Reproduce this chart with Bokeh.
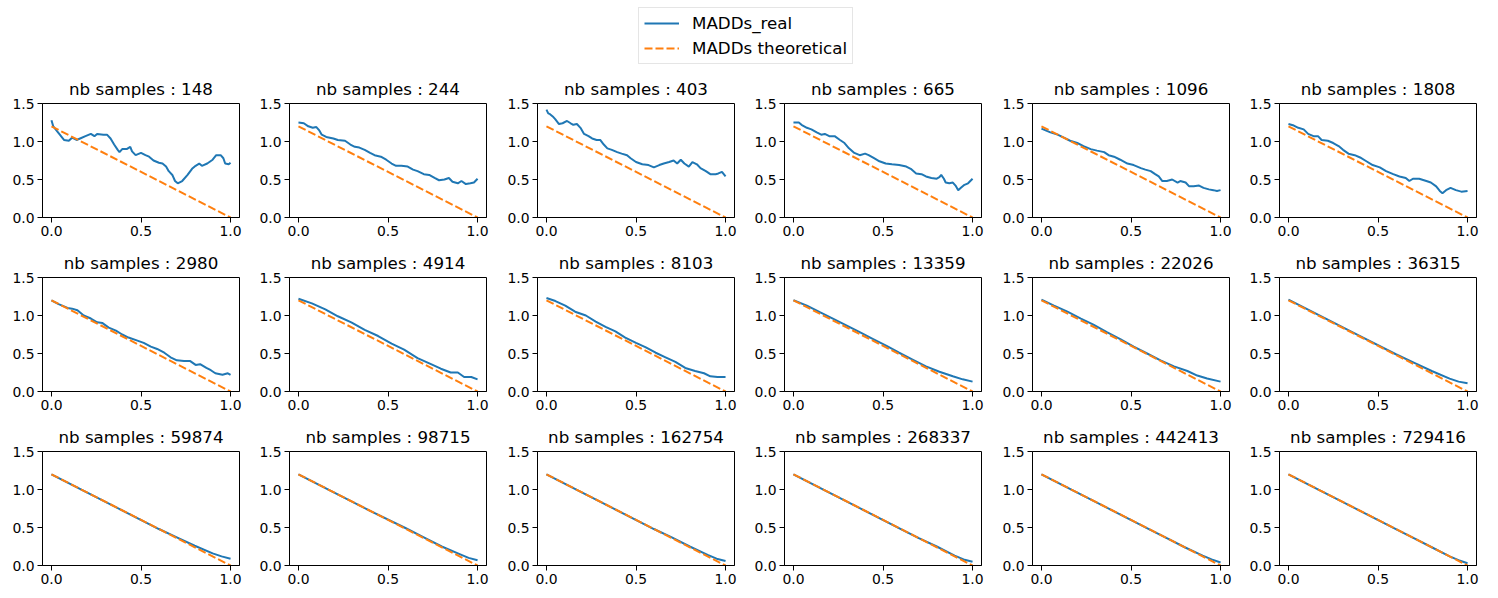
from bokeh.plotting import figure
from bokeh.layouts import column, row
from bokeh.models import Legend, LegendItem, FixedTicker, NumeralTickFormatter
from bokeh.embed import file_html
from bokeh.resources import INLINE

# ---------------- data ----------------
nb_samples = [148, 244, 403, 665, 1096, 1808,
              2980, 4914, 8103, 13359, 22026, 36315,
              59874, 98715, 162754, 268337, 442413, 729416]

theo_x = [0.0, 1.0]
theo_y = [1.2, 0.0]

x_148 = [0.0, 0.01, 0.04, 0.07, 0.097, 0.115, 0.14, 0.16, 0.19, 0.22, 0.24, 0.255, 0.29, 0.31, 0.33, 0.35,
         0.37, 0.38, 0.395, 0.42, 0.44, 0.45, 0.47, 0.50, 0.525, 0.545, 0.57, 0.60, 0.62, 0.64, 0.655, 0.675,
         0.69, 0.705, 0.73, 0.76, 0.785, 0.805, 0.825, 0.84, 0.87, 0.90, 0.92, 0.945, 0.96, 0.97, 0.99, 1.0]
y_148 = [1.28, 1.20, 1.11, 1.02, 1.01, 1.05, 1.02, 1.04, 1.07, 1.10, 1.07, 1.10, 1.09, 1.09, 1.04, 0.96,
         0.89, 0.86, 0.90, 0.90, 0.93, 0.87, 0.82, 0.85, 0.82, 0.80, 0.75, 0.72, 0.71, 0.67, 0.61, 0.56,
         0.48, 0.45, 0.48, 0.56, 0.64, 0.68, 0.71, 0.68, 0.71, 0.76, 0.82, 0.82, 0.78, 0.71, 0.70, 0.72]

x_244 = [0.0, 0.03, 0.055, 0.08, 0.10, 0.115, 0.13, 0.155, 0.195, 0.22, 0.26, 0.29, 0.315, 0.34, 0.37,
         0.40, 0.425, 0.46, 0.49, 0.52, 0.545, 0.575, 0.61, 0.64, 0.665, 0.70, 0.73, 0.76, 0.785, 0.815,
         0.84, 0.86, 0.89, 0.91, 0.935, 0.96, 0.98, 1.0]
y_244 = [1.25, 1.24, 1.20, 1.18, 1.19, 1.15, 1.09, 1.06, 1.04, 1.02, 1.01, 0.96, 0.93, 0.92, 0.89,
         0.85, 0.82, 0.80, 0.76, 0.71, 0.68, 0.68, 0.67, 0.63, 0.61, 0.57, 0.56, 0.52, 0.49, 0.50,
         0.52, 0.47, 0.45, 0.48, 0.44, 0.45, 0.46, 0.51]

x_403 = [0.0, 0.01, 0.02, 0.035, 0.05, 0.07, 0.09, 0.115, 0.135, 0.15, 0.17, 0.19, 0.21, 0.235, 0.255,
         0.28, 0.30, 0.32, 0.34, 0.365, 0.395, 0.42, 0.45, 0.47, 0.50, 0.535, 0.57, 0.60, 0.63, 0.655,
         0.685, 0.71, 0.73, 0.75, 0.77, 0.795, 0.815, 0.84, 0.86, 0.89, 0.915, 0.945, 0.96, 0.98, 1.0]
y_403 = [1.42, 1.37, 1.36, 1.33, 1.29, 1.23, 1.24, 1.27, 1.24, 1.22, 1.23, 1.18, 1.10, 1.07, 1.04,
         1.02, 1.02, 0.96, 0.91, 0.89, 0.86, 0.84, 0.82, 0.78, 0.73, 0.70, 0.69, 0.66, 0.69, 0.71,
         0.73, 0.75, 0.71, 0.76, 0.71, 0.67, 0.73, 0.70, 0.65, 0.61, 0.57, 0.57, 0.58, 0.60, 0.54]

x_665 = [0.0, 0.03, 0.045, 0.075, 0.10, 0.13, 0.155, 0.175, 0.20, 0.23, 0.26, 0.285, 0.31, 0.34, 0.37,
         0.40, 0.42, 0.45, 0.48, 0.515, 0.55, 0.59, 0.63, 0.655, 0.685, 0.715, 0.74, 0.77, 0.80, 0.815,
         0.825, 0.84, 0.85, 0.87, 0.89, 0.905, 0.92, 0.935, 0.955, 0.975, 1.0]
y_665 = [1.25, 1.25, 1.22, 1.18, 1.16, 1.12, 1.09, 1.10, 1.07, 1.07, 1.02, 0.98, 0.91, 0.85, 0.82,
         0.84, 0.82, 0.78, 0.74, 0.71, 0.70, 0.69, 0.67, 0.64, 0.58, 0.57, 0.54, 0.52, 0.51, 0.53,
         0.56, 0.51, 0.46, 0.45, 0.46, 0.42, 0.36, 0.39, 0.43, 0.45, 0.51]

x_1096 = [0.0, 0.02, 0.05, 0.09, 0.125, 0.16, 0.20, 0.235, 0.275, 0.31, 0.35, 0.375, 0.405, 0.44, 0.48,
          0.515, 0.555, 0.58, 0.61, 0.635, 0.655, 0.675, 0.70, 0.73, 0.76, 0.775, 0.805, 0.825, 0.85,
          0.88, 0.905, 0.935, 0.96, 0.98, 1.0]
y_1096 = [1.17, 1.15, 1.12, 1.09, 1.05, 1.01, 0.98, 0.94, 0.90, 0.88, 0.86, 0.82, 0.80, 0.76, 0.71,
          0.69, 0.65, 0.63, 0.61, 0.57, 0.54, 0.48, 0.48, 0.50, 0.46, 0.48, 0.46, 0.41, 0.41,
          0.42, 0.39, 0.37, 0.36, 0.35, 0.36]

x_1808 = [0.0, 0.03, 0.055, 0.085, 0.11, 0.14, 0.165, 0.185, 0.22, 0.25, 0.28, 0.305, 0.335, 0.37, 0.40,
          0.435, 0.47, 0.51, 0.545, 0.585, 0.62, 0.655, 0.675, 0.695, 0.73, 0.77, 0.795, 0.825, 0.845,
          0.86, 0.88, 0.905, 0.935, 0.965, 1.0]
y_1808 = [1.23, 1.21, 1.18, 1.16, 1.10, 1.07, 1.07, 1.02, 1.01, 0.98, 0.94, 0.89, 0.84, 0.82, 0.79,
          0.74, 0.69, 0.66, 0.61, 0.57, 0.54, 0.52, 0.48, 0.51, 0.51, 0.48, 0.46, 0.41, 0.35,
          0.32, 0.36, 0.39, 0.36, 0.34, 0.35]

x_2980 = [0.0, 0.04, 0.09, 0.115, 0.145, 0.18, 0.22, 0.255, 0.285, 0.32, 0.36, 0.395, 0.43, 0.48, 0.515,
          0.555, 0.59, 0.63, 0.665, 0.70, 0.74, 0.775, 0.805, 0.83, 0.865, 0.89, 0.915, 0.955, 0.985, 1.0]
y_2980 = [1.20, 1.15, 1.10, 1.09, 1.07, 1.00, 0.96, 0.91, 0.90, 0.84, 0.80, 0.75, 0.71, 0.67, 0.64,
          0.59, 0.56, 0.51, 0.45, 0.41, 0.40, 0.40, 0.35, 0.36, 0.31, 0.28, 0.24, 0.22, 0.24, 0.22]

x_4914 = [0.0, 0.075, 0.15, 0.22, 0.295, 0.37, 0.445, 0.52, 0.59, 0.665, 0.74, 0.795, 0.85, 0.89, 0.925,
          0.965, 1.0]
y_4914 = [1.22, 1.16, 1.08, 0.99, 0.91, 0.81, 0.73, 0.63, 0.55, 0.44, 0.36, 0.30, 0.25, 0.25, 0.19,
          0.19, 0.16]

x_8103 = [0.0, 0.05, 0.105, 0.16, 0.22, 0.275, 0.33, 0.385, 0.44, 0.50, 0.555, 0.61, 0.665, 0.72, 0.775,
          0.83, 0.88, 0.915, 0.955, 1.0]
y_8103 = [1.23, 1.19, 1.13, 1.05, 1.00, 0.92, 0.85, 0.79, 0.71, 0.64, 0.58, 0.51, 0.45, 0.39, 0.31,
          0.27, 0.24, 0.20, 0.19, 0.19]

x_13359 = [0.0, 0.075, 0.15, 0.22, 0.295, 0.37, 0.445, 0.52, 0.59, 0.665, 0.74, 0.815, 0.89, 0.945, 1.0]
y_13359 = [1.20, 1.13, 1.04, 0.96, 0.87, 0.78, 0.69, 0.60, 0.51, 0.42, 0.33, 0.26, 0.20, 0.16, 0.13]

x_22026 = [0.0, 0.07, 0.145, 0.22, 0.29, 0.365, 0.44, 0.515, 0.59, 0.665, 0.74, 0.815, 0.87, 0.925, 1.0]
y_22026 = [1.21, 1.13, 1.05, 0.96, 0.88, 0.78, 0.69, 0.59, 0.50, 0.41, 0.33, 0.27, 0.21, 0.17, 0.13]

x_smooth = [0.0, 0.2, 0.4, 0.6, 0.7, 0.8, 0.9, 0.95, 1.0]
y_36315 = [1.21, 0.97, 0.73, 0.49, 0.38, 0.27, 0.17, 0.13, 0.11]
y_59874 = [1.20, 0.96, 0.72, 0.48, 0.37, 0.26, 0.16, 0.12, 0.09]
y_98715 = [1.20, 0.96, 0.72, 0.49, 0.37, 0.25, 0.15, 0.10, 0.07]
y_162754 = [1.20, 0.96, 0.72, 0.48, 0.37, 0.25, 0.14, 0.09, 0.06]
y_268337 = [1.20, 0.96, 0.72, 0.48, 0.36, 0.25, 0.13, 0.08, 0.05]
y_442413 = [1.20, 0.96, 0.72, 0.48, 0.36, 0.24, 0.13, 0.08, 0.04]
y_729416 = [1.20, 0.96, 0.72, 0.48, 0.36, 0.24, 0.12, 0.07, 0.03]

x_ticks = [0.0, 0.5, 1.0]
y_ticks = [0.0, 0.5, 1.0, 1.5]

real_series = [
    (x_148, y_148), (x_244, y_244), (x_403, y_403), (x_665, y_665), (x_1096, y_1096), (x_1808, y_1808),
    (x_2980, y_2980), (x_4914, y_4914), (x_8103, y_8103), (x_13359, y_13359), (x_22026, y_22026),
    (x_smooth, y_36315),
    (x_smooth, y_59874), (x_smooth, y_98715), (x_smooth, y_162754), (x_smooth, y_268337),
    (x_smooth, y_442413), (x_smooth, y_729416),
]

BLUE = "#1f77b4"
ORANGE = "#ff7f0e"
FONT = "DejaVu Sans"

# ---------------- legend strip ----------------
# the strip's ranges are set away from the data so that only the legend shows
leg_fig = figure(width=1498, height=69, output_backend="svg", toolbar_location=None,
                 x_axis_location=None, y_axis_location=None, min_border=0,
                 x_range=(10, 11), y_range=(10, 11))
leg_fig.grid.visible = False
leg_fig.outline_line_color = None
r_real = leg_fig.line(x=x_148, y=y_148, line_color=BLUE, line_width=2)
r_theo = leg_fig.line(x=theo_x, y=theo_y, line_color=ORANGE, line_width=2, line_dash="8 3")
legend = Legend(items=[LegendItem(label="MADDs_real", renderers=[r_real]),
                       LegendItem(label="MADDs theoretical", renderers=[r_theo])],
                location=(638, 5), orientation="vertical",
                label_text_font=FONT, label_text_font_size="16.7px", label_text_color="black",
                glyph_width=35, glyph_height=20, label_height=20, label_standoff=13,
                spacing=5, padding=5, margin=0,
                border_line_color="#cccccc", border_line_width=1,
                background_fill_color="white", background_fill_alpha=0.8)
leg_fig.add_layout(legend, "center")

# ---------------- subplot grid ----------------
widths = [247, 248, 247, 248, 247, 248]
rows = []
for r in range(3):
    figs = []
    for c in range(6):
        i = r * 6 + c
        w = widths[c]
        p = figure(width=w, height=174, output_backend="svg", toolbar_location=None,
                   x_range=(-0.05, 1.05), y_range=(0, 1.5),
                   min_border_left=42, min_border_right=w - 42 - 197,
                   min_border_top=34, min_border_bottom=26,
                   title=f"nb samples : {nb_samples[i]}")
        p.title.align = "center"
        p.title.text_font = FONT
        p.title.text_font_size = "16.7px"
        p.title.text_font_style = "normal"
        p.title.text_color = "black"
        p.title.standoff = 10
        p.grid.visible = False
        p.outline_line_color = "black"
        p.outline_line_width = 1
        p.outline_line_alpha = 1
        for ax in (p.xaxis[0], p.yaxis[0]):
            ax.major_label_text_font = FONT
            ax.major_label_text_font_size = "13.9px"
            ax.major_label_text_color = "black"
            ax.major_tick_out = 5
            ax.major_tick_in = 0
            ax.minor_tick_out = 0
            ax.minor_tick_in = 0
            ax.major_label_standoff = 3
            ax.axis_line_color = "black"
            ax.major_tick_line_color = "black"
            ax.formatter = NumeralTickFormatter(format="0.0")
        p.xaxis[0].ticker = FixedTicker(ticks=x_ticks)
        p.yaxis[0].ticker = FixedTicker(ticks=y_ticks)
        xs, ys = real_series[i]
        p.line(x=xs, y=ys, line_color=BLUE, line_width=2)
        p.line(x=theo_x, y=theo_y, line_color=ORANGE, line_width=2, line_dash="8 3")
        figs.append(p)
    rows.append(row(*figs, spacing=0))

layout = column(leg_fig, *rows, spacing=0)
open("out.html", "w").write(file_html(layout, INLINE))
